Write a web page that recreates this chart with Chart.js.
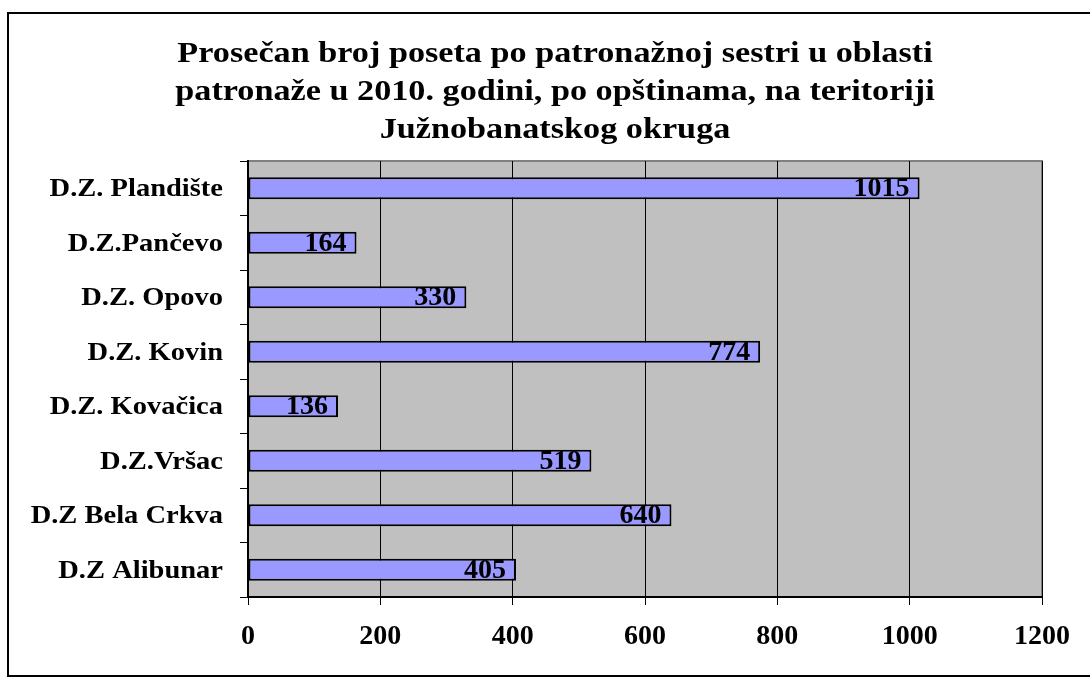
<!DOCTYPE html>
<html>
<head>
<meta charset="utf-8">
<script src="https://cdn.jsdelivr.net/npm/chart.js@4/dist/chart.umd.min.js"></script>
<style>
  html, body { margin: 0; padding: 0; background: #fff; }
  #wrap { width: 1090px; height: 682px; }
</style>
</head>
<body>
<div id="wrap"><canvas id="chart" width="1090" height="682"></canvas></div>
<script>
const TITLE_LINES = [
  'Prosečan broj poseta po patronažnoj sestri u oblasti',
  'patronaže u 2010. godini, po opštinama, na teritoriji',
  'Južnobanatskog okruga'
];
const categories = [
  'D.Z. Plandište',
  'D.Z.Pančevo',
  'D.Z. Opovo',
  'D.Z. Kovin',
  'D.Z. Kovačica',
  'D.Z.Vršac',
  'D.Z Bela Crkva',
  'D.Z Alibunar'
];
const visits = [1015, 164, 330, 774, 136, 519, 640, 405];
const xTicks = [0, 200, 400, 600, 800, 1000, 1200];

const SERIF = '"Liberation Serif", "Times New Roman", serif';
// the original text is slightly wider than Times, so stretch it a bit
const STRETCH = 1.14;

function wideText(ctx, text, x, y, align) {
  ctx.save();
  ctx.translate(x, y);
  ctx.scale(STRETCH, 1);
  ctx.textAlign = align;
  ctx.fillText(text, 0, 0);
  ctx.restore();
}

// gray plot background + gray top/right edge
const plotBackground = {
  id: 'plotBackground',
  beforeDraw(chart) {
    const { ctx, chartArea: a } = chart;
    ctx.save();
    ctx.fillStyle = '#c0c0c0';
    ctx.fillRect(a.left, a.top, a.right - a.left, a.bottom - a.top);
    ctx.strokeStyle = '#808080';
    ctx.lineWidth = 2;
    ctx.beginPath();
    ctx.moveTo(a.left, a.top);
    ctx.lineTo(a.right, a.top);
    ctx.lineTo(a.right, a.bottom);
    ctx.stroke();
    ctx.restore();
  }
};

// title, category names and the (open on the right) outer frame
const texts = {
  id: 'texts',
  afterDraw(chart) {
    const ctx = chart.ctx;
    ctx.save();
    ctx.fillStyle = '#000';
    ctx.textBaseline = 'alphabetic';

    ctx.font = 'bold 30px ' + SERIF;
    const baselines = [62, 100, 138];
    TITLE_LINES.forEach((line, i) => wideText(ctx, line, 555, baselines[i], 'center'));

    ctx.font = 'bold 25px ' + SERIF;
    const y = chart.scales.y;
    categories.forEach((name, i) => {
      wideText(ctx, name, y.right - 25, y.getPixelForValue(i) + 8, 'right');
    });

    ctx.strokeStyle = '#000';
    ctx.lineWidth = 2;
    ctx.beginPath();
    ctx.moveTo(1090, 13);
    ctx.lineTo(8, 13);
    ctx.lineTo(8, 676);
    ctx.lineTo(1090, 676);
    ctx.stroke();
    ctx.restore();
  }
};

// value labels at the inner end of each bar
const valueLabels = {
  id: 'valueLabels',
  afterDatasetsDraw(chart) {
    const ctx = chart.ctx;
    const meta = chart.getDatasetMeta(0);
    ctx.save();
    ctx.font = 'bold 28px ' + SERIF;
    ctx.fillStyle = '#000';
    ctx.textAlign = 'right';
    ctx.textBaseline = 'middle';
    meta.data.forEach((bar, i) => {
      ctx.fillText(String(visits[i]), bar.x - 10, bar.y + 1);
    });
    ctx.restore();
  }
};

new Chart(document.getElementById('chart'), {
  type: 'bar',
  data: {
    labels: categories,
    datasets: [{
      data: visits,
      backgroundColor: '#9999ff',
      borderColor: '#000',
      borderWidth: 2,
      borderSkipped: false,
      barPercentage: 0.4,
      categoryPercentage: 1
    }]
  },
  options: {
    indexAxis: 'y',
    responsive: false,
    animation: false,
    layout: { padding: { top: 161, left: 10, right: 48, bottom: 10 } },
    plugins: {
      legend: { display: false },
      tooltip: { enabled: false },
      title: { display: false }
    },
    scales: {
      x: {
        min: 0,
        max: 1200,
        afterBuildTicks(scale) {
          scale.ticks = xTicks.map(v => ({ value: v }));
        },
        afterFit(scale) { scale.height = 75; },
        border: { color: '#000', width: 2 },
        grid: { color: '#000', lineWidth: 1, tickLength: 8, drawOnChartArea: true },
        ticks: {
          color: '#000',
          padding: 15,
          maxRotation: 0,
          callback: v => String(v),
          font: { family: SERIF, size: 28, weight: 'bold' }
        }
      },
      y: {
        afterFit(scale) { scale.width = 238; },
        border: { color: '#000', width: 2 },
        grid: { offset: true, color: '#000', tickLength: 8, drawOnChartArea: false },
        ticks: { display: false }
      }
    }
  },
  plugins: [plotBackground, valueLabels, texts]
});
</script>
</body>
</html>
